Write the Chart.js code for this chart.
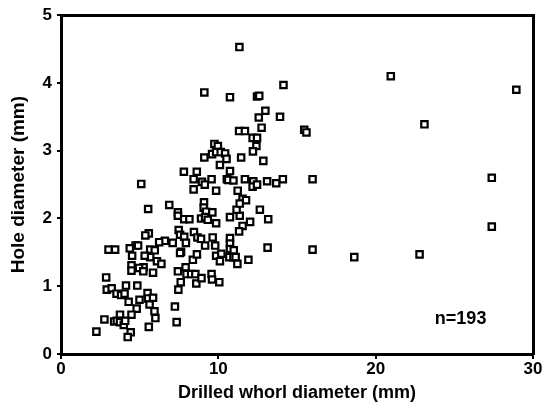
<!DOCTYPE html>
<html>
<head>
<meta charset="utf-8">
<script src="https://cdn.jsdelivr.net/npm/chart.js@4/dist/chart.umd.min.js"></script>
<style>
  html, body { margin: 0; padding: 0; background: #fff; }
  #wrap { width: 545px; height: 410px; }
</style>
</head>
<body>
<div id="wrap"><canvas id="whorlChart"></canvas></div>
<script>
// Drilled whorl diameter (mm)
const whorlDiameter = [
  11.34, 9.11, 10.74, 12.46, 12.6, 14.14, 12.99, 12.57, 13.92, 12.75,
  11.32, 11.69, 15.46, 15.6, 12.18, 12.46, 12.42, 20.96, 28.94, 23.1,
  9.75, 9.97, 9.6, 9.86, 10.15, 10.43, 10.52, 10.1, 9.11, 11.45,
  12.2, 12.86, 7.81, 8.63, 10.74, 8.43, 8.96, 9.14, 9.57, 10.54,
  10.63, 10.96, 11.69, 12.22, 12.18, 12.46, 13.1, 13.68, 14.1, 15.99,
  27.38, 5.1, 8.43, 9.86, 11.23, 11.54, 11.76, 9.09, 9.07, 9.22,
  9.62, 8.9, 9.16, 9.33, 9.86, 10.74, 11.36, 11.16, 11.36, 12.64,
  13.17, 12.02, 11.54, 11.32, 5.54, 6.88, 7.43, 7.43, 7.83, 8.16,
  7.48, 7.57, 7.83, 7.94, 7.63, 7.57, 8.45, 8.67, 8.9, 9.16,
  9.64, 9.8, 10.74, 10.74, 10.74, 10.98, 10.7, 10.96, 11.1, 9.86,
  10.19, 10.1, 11.21, 11.91, 13.13, 15.99, 18.64, 22.79, 27.38, 8.38,
  8.64, 7.43, 7.92, 7.98, 8.27, 8.54, 8.6, 8.93, 9.57, 9.6,
  10.06, 7.61, 7.46, 7.24, 7.35, 7.1, 6.6, 6.24, 5.58, 5.36,
  5.67, 5.96, 5.67, 5.32, 6.1, 6.38, 5.85, 5.25, 4.96, 5.23,
  4.74, 4.9, 4.37, 4.52, 4.48, 4.48, 3.02, 3.44, 2.87, 2.91,
  3.22, 3.53, 3.82, 4.04, 4.13, 4.85, 4.3, 4.99, 4.81, 4.48,
  3.75, 2.76, 3.38, 3.55, 3.75, 3.99, 4.08, 4.43, 4.24, 2.25,
  5.5, 5.54, 5.85, 5.63, 5.94, 6.0, 5.58
];
// Hole diameter (mm), same order
const holeDiameter = [
  4.53, 3.86, 3.79, 3.80, 3.81, 3.97, 3.59, 3.49, 3.50, 3.34,
  3.29, 3.29, 3.31, 3.27, 3.19, 3.19, 3.07, 4.10, 3.90, 3.39,
  3.10, 3.07, 2.95, 2.98, 2.98, 2.96, 2.88, 2.79, 2.90, 2.90,
  2.99, 2.85, 2.69, 2.69, 2.70, 2.58, 2.54, 2.50, 2.58, 2.58,
  2.57, 2.56, 2.58, 2.55, 2.47, 2.50, 2.55, 2.52, 2.58, 2.58,
  2.60, 2.51, 2.43, 2.41, 2.41, 2.29, 2.27, 2.24, 2.16, 2.10,
  2.09, 2.00, 2.02, 1.98, 1.93, 2.02, 2.04, 2.13, 2.22, 2.13,
  1.99, 1.95, 1.89, 1.81, 2.14, 2.20, 2.09, 2.04, 1.99, 1.99,
  1.83, 1.76, 1.73, 1.64, 1.51, 1.49, 1.80, 1.72, 1.70, 1.60,
  1.72, 1.60, 1.71, 1.63, 1.55, 1.53, 1.43, 1.43, 1.43, 1.45,
  1.48, 1.37, 1.33, 1.39, 1.57, 1.54, 1.43, 1.47, 1.88, 1.39,
  1.47, 1.22, 1.28, 1.18, 1.18, 1.18, 1.04, 1.12, 1.18, 1.10,
  1.06, 1.06, 0.95, 0.70, 0.47, 1.64, 1.67, 1.65, 1.78, 1.75,
  1.54, 1.53, 1.43, 1.45, 1.37, 1.33, 1.20, 1.28, 1.27, 1.22,
  1.60, 1.60, 1.56, 1.45, 1.31, 1.23, 1.54, 1.54, 1.13, 0.95,
  0.97, 0.89, 0.87, 0.89, 1.01, 1.01, 0.77, 0.80, 0.67, 0.58,
  0.58, 0.51, 0.48, 0.49, 0.47, 0.43, 0.49, 0.32, 0.25, 0.33,
  0.90, 0.82, 0.83, 0.73, 0.63, 0.53, 0.40
];
const xTicks = [0, 10, 20, 30];
const yTicks = [0, 1, 2, 3, 4, 5];
const sampleNote = 'n=193';

const points = whorlDiameter.map((x, i) => ({ x: x, y: holeDiameter[i] }));
const FONT = '"Liberation Sans", Arial, Helvetica, sans-serif';

// box round the plot made from filled bands, drawn under the points
const framePlugin = {
  id: 'boxEdges',
  beforeDatasetsDraw(chart) {
    const ctx = chart.ctx;
    const a = chart.chartArea;
    const w = 3;
    const l = Math.round(a.left), t = Math.round(a.top);
    const r = Math.round(a.right), b = Math.round(a.bottom);
    ctx.save();
    ctx.fillStyle = '#000';
    ctx.fillRect(l - 1, t - 1, r - l + 2, w);      // top
    ctx.fillRect(r - 1, t - 1, w, b - t + 2);      // right
    ctx.fillRect(l - 1, t - 1, w, b - t + 2);      // left
    ctx.fillRect(l - 1, b - 1, r - l + 2, w);      // bottom
    ctx.restore();
  },
  afterDraw(chart) {
    const ctx = chart.ctx;
    const px = chart.scales.x.getPixelForValue(25.4);
    const py = chart.scales.y.getPixelForValue(0.52);
    ctx.save();
    ctx.fillStyle = '#000';
    ctx.font = 'bold 18px ' + FONT;
    ctx.textAlign = 'center';
    ctx.textBaseline = 'middle';
    ctx.fillText(sampleNote, px, py);
    ctx.restore();
  }
};

new Chart(document.getElementById('whorlChart'), {
  type: 'scatter',
  data: {
    datasets: [{
      data: points,
      pointStyle: 'rect',
      pointRadius: 4.5,
      pointHoverRadius: 4.5,
      pointBorderWidth: 2.2,
      pointBorderColor: '#000',
      pointBackgroundColor: '#fff'
    }, {
      // small dot in the middle of each square
      data: points,
      pointStyle: 'circle',
      pointRadius: 0.7,
      pointBorderWidth: 0,
      pointBackgroundColor: '#333'
    }]
  },
  options: {
    responsive: true,
    maintainAspectRatio: false,
    animation: false,
    layout: { padding: { top: 15, right: 12, left: 0, bottom: 0 } },
    plugins: {
      legend: { display: false },
      tooltip: { enabled: false }
    },
    scales: {
      x: {
        type: 'linear',
        min: 0,
        max: 30,
        afterBuildTicks: (s) => { s.ticks = xTicks.map(v => ({ value: v })); },
        afterFit: (s) => { s.height = 56; },
        grid: { display: true, drawOnChartArea: false, drawTicks: true, tickLength: 5, color: '#000', lineWidth: 2 },
        border: { display: true, color: '#000', width: 3 },
        ticks: { color: '#000', padding: 0, font: { family: FONT, size: 17, weight: 'bold' }, maxRotation: 0 },
        title: {
          display: true,
          text: 'Drilled whorl diameter (mm)',
          color: '#000',
          font: { family: FONT, size: 18, weight: 'bold' },
          padding: { top: 0, bottom: 6 }
        }
      },
      y: {
        type: 'linear',
        min: 0,
        max: 5,
        afterBuildTicks: (s) => { s.ticks = yTicks.map(v => ({ value: v })); },
        afterFit: (s) => { s.width = 61; },
        grid: { display: true, drawOnChartArea: false, drawTicks: true, tickLength: 4, color: '#000', lineWidth: 2 },
        border: { display: true, color: '#000', width: 3 },
        ticks: { color: '#000', padding: 5, font: { family: FONT, size: 17, weight: 'bold' } },
        title: {
          display: true,
          text: 'Hole diameter (mm)',
          color: '#000',
          font: { family: FONT, size: 19, weight: 'bold' },
          padding: { top: 7, bottom: 0 }
        }
      }
    }
  },
  plugins: [framePlugin]
});
</script>
</body>
</html>
